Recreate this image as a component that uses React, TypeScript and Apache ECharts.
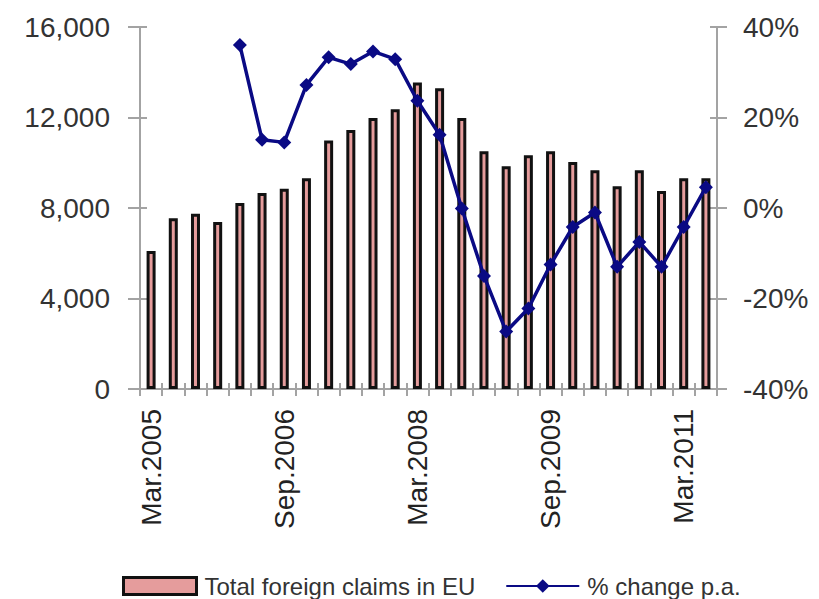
import React, { useEffect, useRef } from "react";
import * as echarts from "echarts";

const quarters = [
  "Mar.2005", "Jun.2005", "Sep.2005", "Dec.2005",
  "Mar.2006", "Jun.2006", "Sep.2006", "Dec.2006",
  "Mar.2007", "Jun.2007", "Sep.2007", "Dec.2007",
  "Mar.2008", "Jun.2008", "Sep.2008", "Dec.2008",
  "Mar.2009", "Jun.2009", "Sep.2009", "Dec.2009",
  "Mar.2010", "Jun.2010", "Sep.2010", "Dec.2010",
  "Mar.2011", "Jun.2011",
];

const totalClaims = [
  6100, 7550, 7750, 7380, 8220, 8660, 8850, 9320,
  10980, 11450, 11980, 12360, 13550, 13290, 11980, 10510,
  9850, 10330, 10510, 10030, 9670, 8960, 9670, 8750,
  9320, 9320,
];

const pctChange: (number | string)[] = [
  "-", "-", "-", "-", 36.0, 15.1, 14.5, 27.2,
  33.3, 31.8, 34.6, 32.9, 23.7, 16.2, -0.1, -15.0,
  -27.3, -22.2, -12.5, -4.2, -1.0, -13.0, -7.5, -13.0,
  -4.2, 4.6,
];

const leftTicks = { min: 0, max: 16000, interval: 4000 };
const rightTicks = { min: -40, max: 40, interval: 20 };

const AXIS_GRAY = "#a3a3a3";
const FONT = "'Liberation Sans', Arial, sans-serif";

export default function App() {
  const ref = useRef<HTMLDivElement>(null);

  useEffect(() => {
    if (!ref.current) return;
    const chart = echarts.init(ref.current, undefined, { renderer: "svg" });
    chart.setOption({
      animation: false,
      backgroundColor: "#ffffff",
      grid: { left: 140, right: 102, top: 27, bottom: 210, containLabel: false },
      legend: {
        left: 117,
        top: 569,
        itemWidth: 73,
        itemHeight: 17,
        itemGap: 30,
        textStyle: {
          fontSize: 24,
          color: "#333",
          fontFamily: FONT,
          padding: [0, 0, 0, 3],
        },
        data: [
          {
            name: "Total foreign claims in EU",
            icon: "rect",
            itemStyle: { color: "#e59c9c", borderColor: "#111", borderWidth: 3 },
          },
          { name: "% change p.a." },
        ],
      },
      xAxis: [
        {
          type: "category",
          data: quarters,
          boundaryGap: true,
          axisLine: { onZero: false, lineStyle: { color: AXIS_GRAY, width: 2 } },
          axisTick: { show: true, interval: 0, length: 7, lineStyle: { color: AXIS_GRAY, width: 2 } },
          axisLabel: {
            interval: 5,
            rotate: 90,
            margin: 20,
            fontSize: 28,
            color: "#222",
            fontFamily: FONT,
          },
        },
        {
          type: "category",
          data: quarters,
          position: "bottom",
          boundaryGap: true,
          axisLine: { show: false, onZero: false },
          axisTick: { show: true, inside: true, interval: 0, length: 6, lineStyle: { color: AXIS_GRAY, width: 2 } },
          axisLabel: { show: false },
        },
      ],
      yAxis: [
        {
          type: "value",
          position: "left",
          ...leftTicks,
          splitLine: { show: false },
          axisLine: { show: true, lineStyle: { color: AXIS_GRAY, width: 2 } },
          axisTick: { show: true, length: 12, lineStyle: { color: AXIS_GRAY, width: 2 } },
          axisLabel: {
            margin: 30,
            fontSize: 28,
            color: "#333",
            fontFamily: FONT,
            formatter: (v: number) => v.toLocaleString("en-US"),
          },
        },
        {
          type: "value",
          position: "right",
          ...rightTicks,
          splitLine: { show: false },
          axisLine: { show: true, lineStyle: { color: AXIS_GRAY, width: 2 } },
          axisTick: { show: true, length: 10, lineStyle: { color: AXIS_GRAY, width: 2 } },
          axisLabel: {
            margin: 26,
            fontSize: 28,
            color: "#333",
            fontFamily: FONT,
            formatter: (v: number) => `${v}%`,
          },
        },
        {
          type: "value",
          position: "left",
          ...leftTicks,
          splitLine: { show: false },
          axisLine: { show: false },
          axisTick: { show: true, inside: true, length: 7, lineStyle: { color: AXIS_GRAY, width: 2 } },
          axisLabel: { show: false },
        },
        {
          type: "value",
          position: "right",
          ...rightTicks,
          splitLine: { show: false },
          axisLine: { show: false },
          axisTick: { show: true, inside: true, length: 7, lineStyle: { color: AXIS_GRAY, width: 2 } },
          axisLabel: { show: false },
        },
      ],
      series: [
        {
          name: "Total foreign claims in EU",
          type: "bar",
          xAxisIndex: 0,
          yAxisIndex: 0,
          data: totalClaims,
          barWidth: 9,
          itemStyle: { color: "#e59c9c", borderColor: "#111", borderWidth: 3 },
        },
        {
          name: "% change p.a.",
          type: "line",
          xAxisIndex: 0,
          yAxisIndex: 1,
          data: pctChange,
          symbol: "diamond",
          symbolSize: 14,
          lineStyle: { color: "#0a0a84", width: 3.5 },
          itemStyle: { color: "#0a0a84" },
          z: 5,
        },
      ],
    });
    return () => chart.dispose();
  }, []);

  return (
    <div
      ref={ref}
      style={{ position: "fixed", left: 0, top: 0, width: 819, height: 599 }}
    />
  );
}
